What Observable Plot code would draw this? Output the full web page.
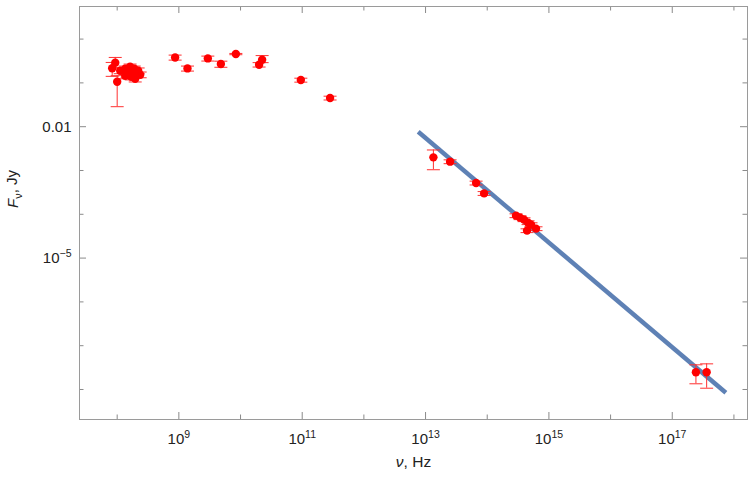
<!DOCTYPE html>
<html><head><meta charset="utf-8">
<script src="https://cdn.jsdelivr.net/npm/d3@7"></script>
<script src="https://cdn.jsdelivr.net/npm/@observablehq/plot@0.6"></script>
<style>body{margin:0;background:#fff;}</style>
</head><body><div id="chart"></div>
<script>
// Frequency (Hz), flux density (Jy), lower/upper error bounds (Jy)
const nu = [8.3e7, 9.3e7, 1.0e8, 1.12e8, 1.35e8, 1.45e8, 1.51e8, 1.62e8, 1.69e8, 1.75e8, 1.89e8, 2.03e8, 2.19e8, 2.36e8, 1.96e8, 1.35e8,
  8.7e8, 1.38e9, 2.95e9, 4.8e9, 8.4e9, 2.24e10, 2.0e10, 9.5e10, 2.83e11,
  1.34e13, 2.5e13, 6.6e13, 8.9e13, 2.93e14, 3.40e14, 3.95e14, 4.59e14, 5.13e14, 4.42e14, 6.18e14,
  2.42e17, 3.61e17];
const flux = [0.216, 0.288, 0.106, 0.190, 0.210, 0.154, 0.190, 0.234, 0.138, 0.171, 0.210, 0.154, 0.190, 0.154, 0.124, 0.146,
  0.381, 0.214, 0.362, 0.270, 0.456, 0.338, 0.260, 0.116, 0.0452,
  1.995e-3, 1.59e-3, 5.19e-4, 3.0e-4, 9.31e-5, 8.39e-5, 7.55e-5, 6.45e-5, 5.81e-5, 4.24e-5, 4.71e-5,
  2.48e-8, 2.48e-8];
const fluxLo = [0.141, 0.222, 0.0286, 0.162, 0.179, 0.131, 0.162, 0.199, 0.117, 0.145, 0.179, 0.131, 0.162, 0.131, 0.105, 0.124,
  0.331, 0.186, 0.315, 0.227, 0.44, 0.29, 0.23, 0.104, 0.0407,
  1.04e-3, 1.43e-3, 4.67e-4, 2.7e-4, 8.38e-5, 7.55e-5, 6.80e-5, 5.81e-5, 5.23e-5, 3.82e-5, 4.24e-5,
  1.35e-8, 1.07e-8];
const fluxHi = [0.293, 0.381, 0.146, 0.219, 0.242, 0.177, 0.219, 0.269, 0.159, 0.197, 0.242, 0.177, 0.219, 0.177, 0.143, 0.168,
  0.431, 0.242, 0.409, 0.313, 0.47, 0.42, 0.29, 0.128, 0.0497,
  2.94e-3, 1.75e-3, 5.71e-4, 3.3e-4, 1.024e-4, 9.23e-5, 8.31e-5, 7.10e-5, 6.39e-5, 4.66e-5, 5.18e-5,
  3.66e-8, 3.85e-8];

// Power-law fit line endpoints
const fitNu = [7.6e12, 7.4e17];
const fitFlux = [7.7e-3, 8.4e-9];

// Ticks
const xMajorTicks = [1e9, 1e11, 1e13, 1e15, 1e17];
const xMajorExp = ["9", "11", "13", "15", "17"];
const xMinorTicks = [1e8, 1e10, 1e12, 1e14, 1e16, 1e18];
const yMajorTicks = [1e-2, 1e-5];
const yMajorLabels = ["0.01", "10^−5"];
const yMinorTicks = [1, 0.1, 1e-3, 1e-4, 1e-6, 1e-7, 1e-8];
const xLabel = "ν, Hz";
const yLabel = "Fν, Jy";

const W = 756, H = 488, mL = 79, mR = 9, mT = 6, mB = 69;
const pw = W - mL - mR, ph = H - mT - mB;
const frameColor = "#9a9a9a", tickColor = "#8a8a8a", textColor = "#222";
const font = "Liberation Sans, Arial, sans-serif";

const idx = d3.range(nu.length);
const fitIdx = d3.range(fitNu.length);
const capSymbol = {draw(ctx, size) { const w = Math.sqrt(size / Math.PI); ctx.moveTo(-w, 0); ctx.lineTo(w, 0); }};
const errColor = "#ff3030";

const plot = Plot.plot({
  width: W, height: H,
  marginLeft: mL, marginRight: mR, marginTop: mT, marginBottom: mB,
  style: {fontFamily: font, background: "#fff"},
  x: {type: "log", domain: [10 ** 7.389, 10 ** 18.22], axis: null},
  y: {type: "log", domain: [10 ** -8.685, 10 ** 0.744], axis: null},
  marks: [
    // ticks (inward, all four sides)
    Plot.ruleX(xMajorTicks, {x: d => d, insetTop: ph - 7, stroke: tickColor}),
    Plot.ruleX(xMajorTicks, {x: d => d, insetBottom: ph - 7, stroke: tickColor}),
    Plot.ruleX(xMinorTicks, {x: d => d, insetTop: ph - 4.5, stroke: tickColor}),
    Plot.ruleX(xMinorTicks, {x: d => d, insetBottom: ph - 4.5, stroke: tickColor}),
    Plot.ruleY(yMajorTicks, {y: d => d, insetRight: pw - 7, stroke: tickColor}),
    Plot.ruleY(yMajorTicks, {y: d => d, insetLeft: pw - 7, stroke: tickColor}),
    Plot.ruleY(yMinorTicks, {y: d => d, insetRight: pw - 4.5, stroke: tickColor}),
    Plot.ruleY(yMinorTicks, {y: d => d, insetLeft: pw - 4.5, stroke: tickColor}),
    Plot.frame({stroke: frameColor}),
    // tick labels
    Plot.text(xMajorTicks, {x: d => d, text: (d, i) => "10^" + xMajorExp[i], frameAnchor: "bottom", dy: 24, fontSize: 15, fill: textColor, ariaDescription: "xticklabel"}),
    Plot.text(yMajorTicks, {y: d => d, text: (d, i) => yMajorLabels[i], frameAnchor: "left", textAnchor: "end", dx: -8, fontSize: 15, fill: textColor, ariaDescription: "yticklabel"}),
    // axis labels
    Plot.text([xLabel], {frameAnchor: "bottom", dy: 47, fontSize: 15.5, fill: textColor, ariaDescription: "xlabel"}),
    Plot.text([yLabel], {frameAnchor: "left", dx: -66, dy: -5, rotate: -90, fontSize: 15, fill: textColor, ariaDescription: "ylabel"}),
    // fit line
    Plot.line(fitIdx, {x: i => fitNu[i], y: i => fitFlux[i], stroke: "#5E81B5", strokeWidth: 4.5, strokeLinecap: "butt"}),
    // error bars
    Plot.ruleX(idx, {x: i => nu[i], y1: i => fluxLo[i], y2: i => fluxHi[i], stroke: errColor, strokeWidth: 1}),
    Plot.dot(idx, {x: i => nu[i], y: i => fluxLo[i], symbol: capSymbol, r: 6.5, stroke: errColor, fill: "none", strokeWidth: 1}),
    Plot.dot(idx, {x: i => nu[i], y: i => fluxHi[i], symbol: capSymbol, r: 6.5, stroke: errColor, fill: "none", strokeWidth: 1}),
    // points
    Plot.dot(idx, {x: i => nu[i], y: i => flux[i], r: 4.2, fill: "#ff0000", stroke: "none"})
  ]
});

// rich text: superscripts / italics
function findTexts(desc) {
  return Array.from(plot.querySelectorAll("g")).filter(g => g.getAttribute("aria-description") === desc)
    .flatMap(g => Array.from(g.querySelectorAll("text")));
}
for (const node of [...findTexts("xticklabel"), ...findTexts("yticklabel")]) {
  const t = node.textContent;
  const k = t.indexOf("^");
  if (k >= 0) {
    const base = t.slice(0, k), exp = t.slice(k + 1);
    const el = d3.select(node);
    el.text(null);
    el.append("tspan").text(base);
    el.append("tspan").attr("dy", "-0.55em").attr("font-size", "10.5px").text(exp);
  }
}
for (const node of findTexts("xlabel")) {
  const t = node.textContent;
  const el = d3.select(node);
  el.text(null);
  el.append("tspan").attr("font-style", "italic").text(t.slice(0, 1));
  el.append("tspan").text(t.slice(1));
}
for (const node of findTexts("ylabel")) {
  const t = node.textContent;
  const el = d3.select(node);
  el.text(null);
  el.append("tspan").attr("font-style", "italic").text(t.slice(0, 1));
  el.append("tspan").attr("dy", "0.3em").attr("font-size", "11px").text(t.slice(1, 2));
  el.append("tspan").attr("dy", "-0.3em").text(t.slice(2));
}

document.getElementById("chart").appendChild(plot);
</script>
</body></html>
